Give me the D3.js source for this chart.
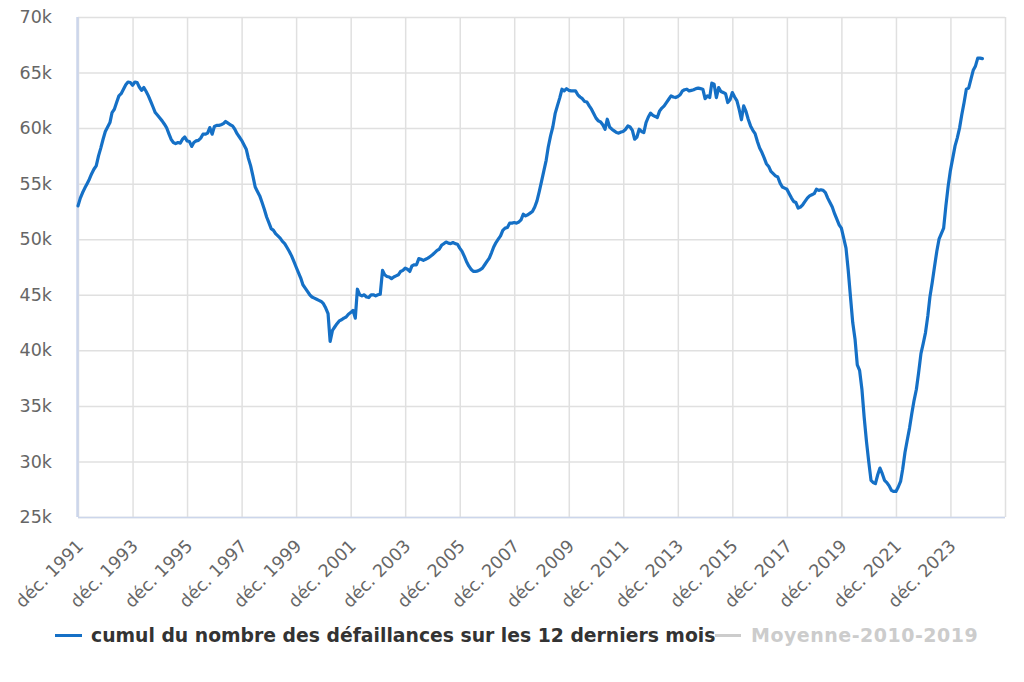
<!DOCTYPE html>
<html>
<head>
<meta charset="utf-8">
<script src="https://cdn.jsdelivr.net/npm/d3@7/dist/d3.min.js"></script>
<style>
  html, body { margin: 0; padding: 0; background: #fff; }
  svg { display: block; font-family: "DejaVu Sans", sans-serif; }
</style>
</head>
<body>
<svg id="chart" width="1024" height="682"></svg>
<script>
// ---- Data (monthly, first value = déc. 1991) ----
const startYear = 1991;
const startMonth = 11; // 0-based: December
const seriesName = "cumul du nombre des défaillances sur les 12 derniers mois";
const hiddenSeriesName = "Moyenne-2010-2019";
const values = [
  53000,53700,54200,54600,55000,55400,55900,56300,56600,57500,58200,59000,
  59700,60100,60500,61400,61700,62300,62900,63100,63500,63900,64150,64100,
  63850,64150,64100,63700,63400,63650,63300,62900,62400,61900,61400,61150,
  60900,60650,60350,60050,59500,59000,58700,58600,58700,58650,59000,59200,
  58850,58800,58350,58700,58850,58900,59100,59450,59450,59550,60050,59450,
  60150,60250,60250,60300,60400,60600,60450,60300,60200,59900,59500,59200,
  58900,58500,58100,57300,56600,55700,54700,54300,53900,53300,52700,52000,
  51500,50950,50800,50500,50300,50100,49800,49600,49250,48900,48500,48000,
  47500,47000,46500,45900,45600,45300,45000,44800,44700,44600,44500,44400,
  44200,43800,43300,40800,41800,42100,42400,42650,42750,42900,43000,43250,
  43400,43600,42900,45500,45000,44900,45000,44800,44750,45000,45000,44900,
  45000,45050,47200,46800,46650,46600,46450,46600,46700,46800,47100,47200,
  47400,47300,47100,47600,47700,47700,48250,48200,48100,48200,48300,48450,
  48600,48800,49000,49100,49450,49600,49750,49650,49600,49700,49600,49550,
  49200,48900,48450,48000,47600,47300,47100,47100,47150,47250,47400,47700,
  48000,48300,48800,49300,49700,50000,50300,50800,51000,51050,51450,51450,
  51500,51450,51550,51750,52250,52100,52200,52350,52500,52900,53450,54300,
  55200,56150,57100,58300,59300,60100,61300,62000,62700,63500,63350,63550,
  63400,63350,63350,63350,63000,62800,62650,62400,62350,62000,61700,61300,
  60900,60650,60550,60300,59900,60800,60100,59900,59750,59600,59550,59650,
  59700,59900,60200,60100,59800,59000,59200,59900,59700,59600,60500,61000,
  61350,61150,61050,60950,61550,61800,62000,62300,62600,62900,62800,62750,
  62850,63000,63350,63450,63500,63350,63400,63450,63550,63600,63550,63500,
  62650,62900,62750,64050,63950,62750,63650,63300,63200,63100,62300,62550,
  63200,62800,62450,61700,60750,62000,61500,60800,60200,59800,59500,58800,
  58200,57800,57300,56800,56550,56100,55900,55700,55600,55050,54700,54600,
  54500,54100,53700,53400,53300,52800,52900,53100,53400,53700,53900,54000,
  54100,54500,54400,54450,54400,54200,53700,53300,52900,52300,51800,51300,
  51000,50100,49200,47250,44800,42500,41000,38700,38200,36500,34000,31800,
  30000,28300,28100,28000,28800,29400,28900,28300,28100,27800,27400,27300,
  27300,27700,28200,29300,30800,31900,33000,34300,35500,36500,38000,39700,
  40600,41600,43100,44800,46100,47500,48900,50000,50500,51000,53000,54800,
  56200,57300,58400,59100,60000,61200,62300,63500,63600,64400,65200,65600,
  66300,66300,66250
];
const xTickYears = [1991,1993,1995,1997,1999,2001,2003,2005,2007,2009,2011,2013,2015,2017,2019,2021,2023,2025];
const xTickLabels = ["déc. 1991","déc. 1993","déc. 1995","déc. 1997","déc. 1999","déc. 2001","déc. 2003","déc. 2005","déc. 2007","déc. 2009","déc. 2011","déc. 2013","déc. 2015","déc. 2017","déc. 2019","déc. 2021","déc. 2023",""];
const yTicks = [25000,30000,35000,40000,45000,50000,55000,60000,65000,70000];

// ---- Layout ----
const plot = { left: 78, right: 1005, top: 17, bottom: 517 };
const svg = d3.select("#chart");

const data = values.map((v, i) => ({ date: new Date(startYear, startMonth + i, 1), value: v }));

const x = d3.scaleTime()
  .domain([new Date(1991, 11, 1), new Date(2025, 11, 1)])
  .range([plot.left, plot.right]);
const y = d3.scaleLinear()
  .domain([25000, 70000])
  .range([plot.bottom, plot.top]);

// Horizontal gridlines + y labels
const yAxis = d3.axisLeft(y)
  .tickValues(yTicks)
  .tickSize(-(plot.right - plot.left))
  .tickPadding(26)
  .tickFormat(d => (d / 1000) + "k");
const gy = svg.append("g").attr("transform", `translate(${plot.left},0)`).call(yAxis);
gy.select(".domain").remove();
gy.selectAll(".tick line").attr("stroke", "#e0e0e0").attr("stroke-width", 1.5);
gy.selectAll(".tick text")
  .attr("fill", "#666")
  .attr("font-size", 17.5)
  .attr("font-family", "DejaVu Sans, sans-serif");

// Vertical gridlines + x labels
const xTickDates = xTickYears.map(yr => new Date(yr, 11, 1));
const xAxis = d3.axisBottom(x)
  .tickValues(xTickDates)
  .tickSize(-(plot.bottom - plot.top))
  .tickFormat((d, i) => xTickLabels[i]);
const gx = svg.append("g").attr("transform", `translate(0,${plot.bottom})`).call(xAxis);
gx.select(".domain").remove();
gx.selectAll(".tick line").attr("stroke", "#e0e0e0").attr("stroke-width", 1.5);
gx.selectAll(".tick text")
  .attr("fill", "#666")
  .attr("font-size", 17.5)
  .attr("font-family", "DejaVu Sans, sans-serif")
  .attr("text-anchor", "end")
  .attr("dy", null)
  .attr("y", 0)
  .attr("transform", "translate(6,30) rotate(-45)");

// Axis lines
svg.append("line")
  .attr("x1", plot.left).attr("x2", plot.right)
  .attr("y1", plot.bottom + 0.5).attr("y2", plot.bottom + 0.5)
  .attr("stroke", "#ccd6eb").attr("stroke-width", 1.5);
svg.append("line")
  .attr("x1", plot.left - 0.5).attr("x2", plot.left - 0.5)
  .attr("y1", plot.top).attr("y2", plot.bottom)
  .attr("stroke", "#ccd6eb").attr("stroke-width", 2.5);

// Series line
const line = d3.line()
  .x(d => x(d.date))
  .y(d => y(d.value));
svg.append("path")
  .datum(data)
  .attr("fill", "none")
  .attr("stroke", "#1570c6")
  .attr("stroke-width", 3.2)
  .attr("stroke-linejoin", "round")
  .attr("stroke-linecap", "round")
  .attr("d", line);

// Legend
const legend = svg.append("g");
legend.append("line")
  .attr("x1", 55).attr("x2", 82).attr("y1", 635.5).attr("y2", 635.5)
  .attr("stroke", "#1570c6").attr("stroke-width", 3);
legend.append("text")
  .attr("x", 91).attr("y", 642)
  .attr("font-size", 18.8).attr("font-weight", "bold").attr("fill", "#333")
  .text(seriesName);
legend.append("line")
  .attr("x1", 715).attr("x2", 741).attr("y1", 635.5).attr("y2", 635.5)
  .attr("stroke", "#cccccc").attr("stroke-width", 3);
legend.append("text")
  .attr("x", 751).attr("y", 642)
  .attr("font-size", 19).attr("font-weight", "bold").attr("fill", "#cccccc")
  .attr("letter-spacing", 0.5)
  .text(hiddenSeriesName);
</script>
</body>
</html>
